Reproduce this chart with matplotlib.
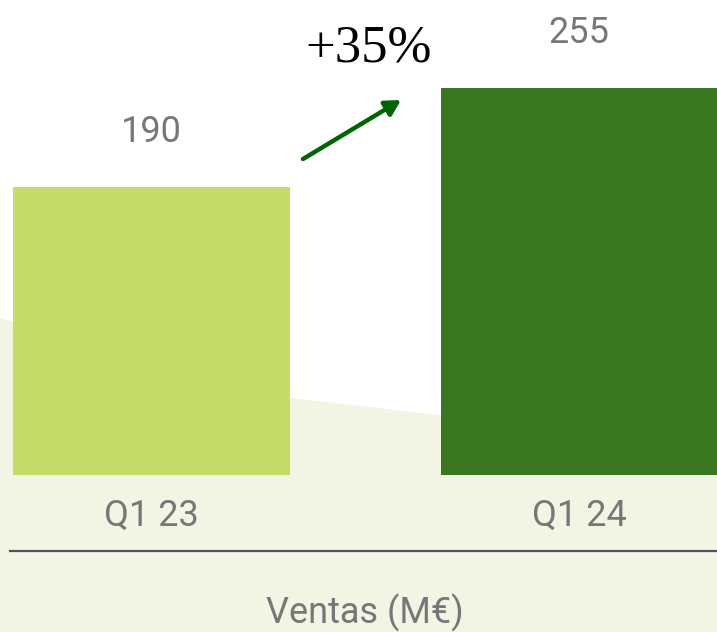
import numpy as np
import matplotlib
matplotlib.use("Agg")
import matplotlib.pyplot as plt
from matplotlib.patches import Polygon
from matplotlib.lines import Line2D

# data
quarters = ["Q1 23", "Q1 24"]
ventas = [190, 255]
growth_label = "+35%"
axis_title = "Ventas (M€)"

bar_colors = ["#c5db6a", "#3a761f"]
grey = "#777777"
cream = "#f2f5e3"

W, H = 717, 632
fig = plt.figure(figsize=(W / 100, H / 100), dpi=100)
fig.patch.set_facecolor("white")

# background swoosh (figure pixels, y from top)
bg = fig.add_axes([0, 0, 1, 1])
bg.set_xlim(0, W)
bg.set_ylim(H, 0)
bg.axis("off")
cx = np.array([0, 150, 291, 439, 600, 717])
cy = np.array([318, 362, 398, 415, 423, 426])
xs = np.linspace(0, W, 200)
ys = np.interp(xs, cx, cy)
poly = np.vstack([np.column_stack([xs, ys]), [[W, H], [0, H]]])
bg.add_patch(Polygon(poly, closed=True, facecolor=cream, edgecolor="none"))
bg.add_line(Line2D([10, W], [551, 551], color="#555555", lw=1.6))
bg.text(365, 613, axis_title, ha="center", va="center", fontsize=26,
        color=grey, family="Roboto")
bg.text(369, 61, growth_label, ha="center", va="baseline", fontsize=38,
        color="black", family="Liberation Serif")
bg.annotate("", xy=(401, 100), xytext=(303, 159),
            arrowprops=dict(arrowstyle="-|>,head_length=0.9,head_width=0.5",
                            color="#006400", lw=3.2, shrinkA=0, shrinkB=0))

# bars
base_px = 475
ax = fig.add_axes([0, (H - base_px) / H, 1, base_px / H])
ax.patch.set_alpha(0)
px_per_unit = 288 / 190
ax.set_ylim(0, base_px / px_per_unit)
spacing = 427.5
ax.set_xlim(-151.5 / spacing, (W - 151.5) / spacing)
x = np.arange(len(quarters))
ax.bar(x, ventas, width=277 / spacing, color=bar_colors)
for xi, v in zip(x, ventas):
    ax.annotate(str(v), (xi, v), xytext=(0, 32.5), textcoords="offset points",
                ha="center", va="baseline", fontsize=26, color=grey,
                family="Roboto")
for xi, q in zip(x, quarters):
    ax.text(xi, -41 / base_px, q, transform=ax.get_xaxis_transform(),
            ha="center", va="center", fontsize=26, color=grey, family="Roboto")
ax.set_xticks([])
ax.set_yticks([])
for s in ax.spines.values():
    s.set_visible(False)

fig.savefig("out.png", dpi=100)
